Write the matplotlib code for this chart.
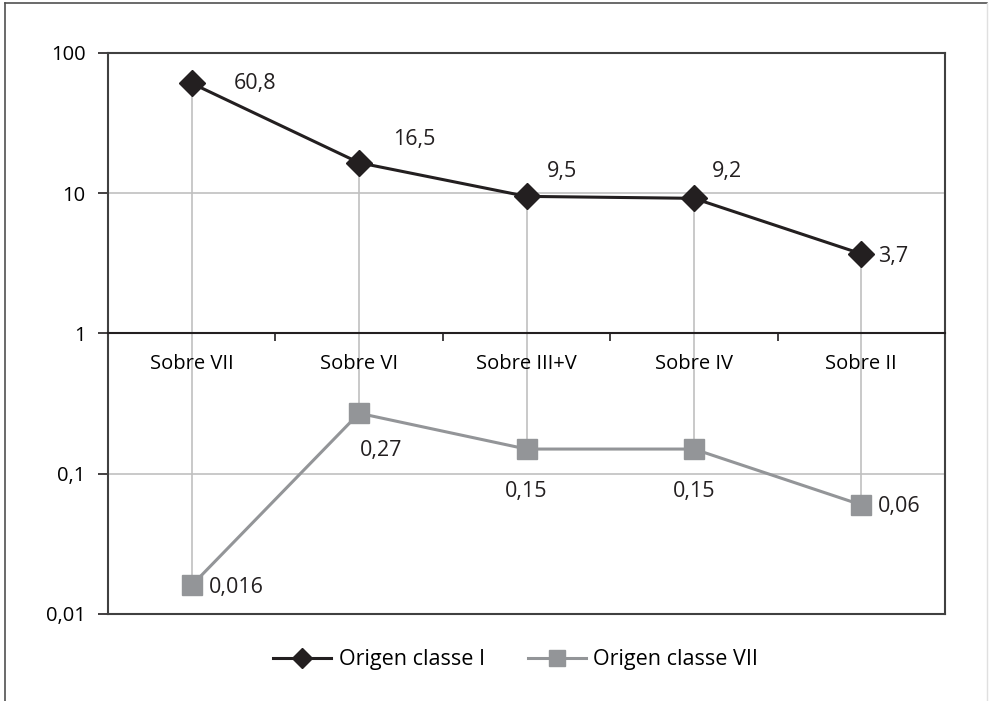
import matplotlib
matplotlib.use("Agg")
import matplotlib.pyplot as plt
from matplotlib.lines import Line2D
import numpy as np

categories = ["Sobre VII", "Sobre VI", "Sobre III+V", "Sobre IV", "Sobre II"]
origen_I = [60.8, 16.5, 9.5, 9.2, 3.7]
origen_VII = [0.016, 0.27, 0.15, 0.15, 0.06]
labels_I = ["60,8", "16,5", "9,5", "9,2", "3,7"]
labels_VII = ["0,016", "0,27", "0,15", "0,15", "0,06"]
ytick_vals = [0.01, 0.1, 1, 10, 100]
ytick_labels = ["0,01", "0,1", "1", "10", "100"]

plt.rcParams['font.family'] = ['Open Sans', 'DejaVu Sans']

W, H = 989, 701
fig = plt.figure(figsize=(W / 100, H / 100), dpi=100)
L, R, T, B = 108, 945, 53, 614
ax = fig.add_axes([L / W, 1 - B / H, (R - L) / W, (B - T) / H])

x = np.arange(len(categories))
ax.set_yscale('log')
ax.set_ylim(0.01, 100)
ax.set_xlim(-0.5, len(categories) - 0.5)

grid_c = '#c0c0c0'
for v in [0.1, 10]:
    ax.axhline(v, color=grid_c, lw=1.2, zorder=1)
# high-low lines
for xi, a, b in zip(x, origen_I, origen_VII):
    ax.plot([xi, xi], [b, a], color=grid_c, lw=1.2, zorder=1)

ax.plot(x, origen_I, color='#231f20', lw=2.2, marker='D', ms=13,
        mfc='#231f20', mec='#231f20', zorder=4, label='Origen classe I')
ax.plot(x, origen_VII, color='#939598', lw=2.2, marker='s', ms=15,
        mfc='#939598', mec='#939598', zorder=3, label='Origen classe VII')

fs = 14.5
lfs = 15.5
k = 0.72  # px -> pt
# series I labels (offsets in pixels)
offs_I = [(42, 0, 'left', 'center'), (34, 23, 'left', 'center'), (20, 25, 'left', 'center'),
          (18, 27, 'left', 'center'), (17, -3, 'left', 'center')]
for xi, v, t, (dx, dy, ha, va) in zip(x, origen_I, labels_I, offs_I):
    ax.annotate(t, (xi, v), xytext=(dx * k, dy * k), textcoords='offset points',
                ha=ha, va=va, fontsize=lfs, color='#231f20')
offs_VII = [(17, -2, 'left', 'center'), (22, -37, 'center', 'center'), (0, -42, 'center', 'center'),
            (0, -42, 'center', 'center'), (17, -2, 'left', 'center')]
for xi, v, t, (dx, dy, ha, va) in zip(x, origen_VII, labels_VII, offs_VII):
    ax.annotate(t, (xi, v), xytext=(dx * k, dy * k), textcoords='offset points',
                ha=ha, va=va, fontsize=lfs, color='#231f20')

# axes frame
frame_c = '#404040'
for s in ['left', 'right', 'top']:
    ax.spines[s].set_color(frame_c)
    ax.spines[s].set_linewidth(1.5)
ax.spines['bottom'].set_position(('data', 1))
ax.spines['bottom'].set_color('#231f20')
ax.spines['bottom'].set_linewidth(1.5)
ax.plot([0, 1], [0, 0], transform=ax.transAxes, color=frame_c, lw=1.5,
        clip_on=False, zorder=5)

ax.set_xticks(np.arange(-0.5, len(categories), 1.0))
ax.set_xticklabels([])
ax.set_xticks(x, minor=True)
ax.set_xticklabels(categories, minor=True, fontsize=fs)
ax.tick_params(axis='x', which='major', direction='out', length=6, width=1.2, color='#231f20')
ax.tick_params(axis='x', which='minor', length=0, pad=15)

ax.set_yticks(ytick_vals)
ax.set_yticklabels(ytick_labels, fontsize=fs)
ax.yaxis.set_minor_locator(matplotlib.ticker.NullLocator())
ax.tick_params(axis='y', which='major', direction='out', length=7, width=1.2,
               color='#231f20', pad=9)

leg = ax.legend(loc='upper center', bbox_to_anchor=(0.487, -0.028), ncol=2, frameon=False,
                fontsize=15.5, handlelength=2.7, handletextpad=0.35, columnspacing=2.0,
                markerscale=0.8)

# figure border
fig.add_artist(Line2D([5 / W, 5 / W], [0, 1 - 3 / H], color='#505050', lw=1.2))
fig.add_artist(Line2D([5 / W, 987 / W], [1 - 3 / H, 1 - 3 / H], color='#505050', lw=1.2))
fig.add_artist(Line2D([987 / W, 987 / W], [0, 1 - 3 / H], color='#e0e0e0', lw=1.0))

fig.savefig('out.png', dpi=100)
